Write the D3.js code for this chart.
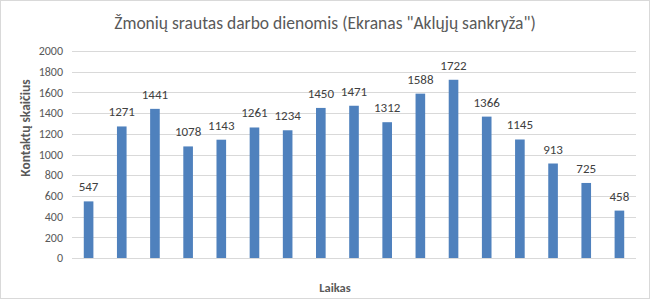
<!DOCTYPE html>
<html>
<head>
<meta charset="utf-8">
<script src="https://cdn.jsdelivr.net/npm/d3@7"></script>
<style>
  body { margin: 0; background: #fff; }
  svg { display: block; }
</style>
</head>
<body>
<svg id="chart" width="652" height="300"></svg>
<script>
// values, one bar per time slot
const slots = d3.range(17).map((i) => `s${i + 1}`);
const contacts = [547, 1271, 1441, 1078, 1143, 1261, 1234, 1450, 1471, 1312, 1588, 1722, 1366, 1145, 913, 725, 458];
const yTicks = [0, 200, 400, 600, 800, 1000, 1200, 1400, 1600, 1800, 2000];

const titleText = 'Žmonių srautas darbo dienomis (Ekranas "Aklųjų sankryža")';
const yTitle = 'Kontaktų skaičius';
const xTitle = 'Laikas';

const width = 652, height = 300;
const margin = { top: 51, right: 16, bottom: 42, left: 72 };
const font = 'Calibri, Carlito, "Open Sans", sans-serif';

const svg = d3.select('#chart');

// outer frame
svg.append('rect')
  .attr('x', 0.5).attr('y', 0.5)
  .attr('width', width - 3).attr('height', height - 2)
  .attr('fill', '#fff')
  .attr('stroke', '#d9d9d9');

const x = d3.scaleBand()
  .domain(slots)
  .range([margin.left, width - margin.right])
  .paddingInner(0.71)
  .paddingOuter(0.355);

const y = d3.scaleLinear()
  .domain([0, 2000])
  .range([height - margin.bottom, margin.top]);

// gridlines
svg.append('g')
  .selectAll('line')
  .data(yTicks)
  .join('line')
  .attr('x1', margin.left)
  .attr('x2', width - margin.right)
  .attr('y1', (d) => Math.round(y(d)) + 0.5)
  .attr('y2', (d) => Math.round(y(d)) + 0.5)
  .attr('stroke', '#d9d9d9')
  .attr('stroke-width', 1);

// y tick labels
svg.append('g')
  .selectAll('text')
  .data(yTicks)
  .join('text')
  .attr('x', margin.left - 9)
  .attr('y', (d) => y(d))
  .attr('dy', '0.35em')
  .attr('text-anchor', 'end')
  .attr('font-family', font)
  .attr('font-size', 12)
  .attr('fill', '#595959')
  .text((d) => d);

// bars
svg.append('g')
  .selectAll('rect')
  .data(contacts)
  .join('rect')
  .attr('x', (d, i) => x(slots[i]))
  .attr('y', (d) => y(d))
  .attr('width', x.bandwidth())
  .attr('height', (d) => y(0) - y(d))
  .attr('fill', '#4f81bd');

// value labels
svg.append('g')
  .selectAll('text')
  .data(contacts)
  .join('text')
  .attr('x', (d, i) => x(slots[i]) + x.bandwidth() / 2)
  .attr('y', (d) => y(d) - 10)
  .attr('text-anchor', 'middle')
  .attr('font-family', font)
  .attr('font-size', 13)
  .attr('fill', '#404040')
  .text((d) => d);

// titles
svg.append('text')
  .attr('x', 325)
  .attr('y', 29)
  .attr('text-anchor', 'middle')
  .attr('font-family', font)
  .attr('font-size', 17.5)
  .attr('fill', '#595959')
  .text(titleText);

svg.append('text')
  .attr('transform', 'translate(25,128) rotate(-90)')
  .attr('dy', '0.35em')
  .attr('text-anchor', 'middle')
  .attr('font-family', font)
  .attr('font-size', 13.5)
  .attr('font-weight', 'bold')
  .attr('fill', '#595959')
  .text(yTitle);

svg.append('text')
  .attr('x', 335)
  .attr('y', 292)
  .attr('text-anchor', 'middle')
  .attr('font-family', font)
  .attr('font-size', 12.5)
  .attr('font-weight', 'bold')
  .attr('fill', '#595959')
  .text(xTitle);
</script>
</body>
</html>
